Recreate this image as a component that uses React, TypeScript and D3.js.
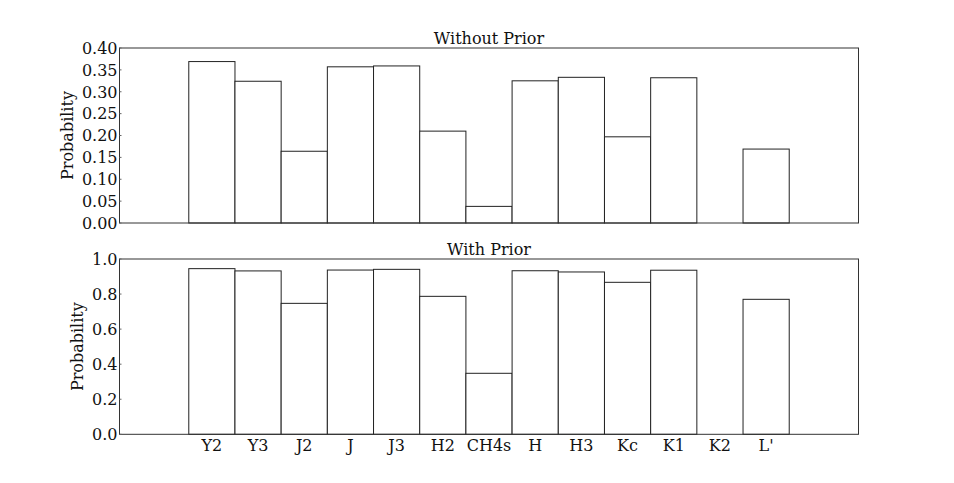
import * as d3 from 'd3';

// categories shared by both panels
const categories = ['Y2', 'Y3', 'J2', 'J', 'J3', 'H2', 'CH4s', 'H', 'H3', 'Kc', 'K1', 'K2', "L'"];

// probabilities without prior
const withoutPrior = [0.369, 0.324, 0.164, 0.357, 0.359, 0.21, 0.038, 0.325, 0.333, 0.197, 0.332, 0, 0.169];

// probabilities with prior
const withPrior = [0.945, 0.932, 0.747, 0.937, 0.941, 0.787, 0.348, 0.933, 0.926, 0.867, 0.936, 0, 0.77];

const topTicks = [0, 0.05, 0.1, 0.15, 0.2, 0.25, 0.3, 0.35, 0.4];
const bottomTicks = [0, 0.2, 0.4, 0.6, 0.8, 1.0];

const font = '"DejaVu Serif", serif';

function Panel({ values, title, yMax, ticks, fmt, top, height, labelX, showX }) {
  const left = 119.5;
  const right = 858.5;
  // bars sit at index i with width 1, one and a half bars of padding each side
  const x = d3.scaleLinear().domain([-1.5, categories.length + 1.5]).range([left, right]);
  const y = d3.scaleLinear().domain([0, yMax]).range([top + height, top]);

  return (
    <g>
      {values.map((v, i) =>
        v > 0 ? (
          <rect
            key={categories[i]}
            x={x(i)}
            y={y(v)}
            width={x(i + 1) - x(i)}
            height={y(0) - y(v)}
            fill="white"
            stroke="#222"
            strokeWidth={1}
          />
        ) : null
      )}
      <rect x={left} y={top} width={right - left} height={height} fill="none" stroke="#333" strokeWidth={1} />
      {ticks.map((t) => (
        <g key={t}>
          <line x1={left} x2={left + 2} y1={y(t)} y2={y(t)} stroke="#666" />
          <text x={left - 2} y={y(t)} dy="0.36em" textAnchor="end" fontSize={16} fontFamily={font} fill="#111">
            {fmt(t)}
          </text>
        </g>
      ))}
      <text x={(left + right) / 2} y={top - 4} textAnchor="middle" fontSize={16} fontFamily={font} fill="#111">
        {title}
      </text>
      <text
        transform={`translate(${labelX}, ${top + height / 2}) rotate(-90)`}
        textAnchor="middle"
        fontSize={16}
        fontFamily={font}
        fill="#111"
      >
        Probability
      </text>
      {showX &&
        categories.map((c, i) => (
          <text key={c} x={x(i + 0.5)} y={top + height + 17} textAnchor="middle" fontSize={16} fontFamily={font} fill="#111">
            {c}
          </text>
        ))}
    </g>
  );
}

export default function App() {
  return (
    <svg width={954} height={483} style={{ position: 'absolute', left: 0, top: 0, background: 'white' }}>
      <Panel
        values={withoutPrior}
        title="Without Prior"
        yMax={0.4}
        ticks={topTicks}
        fmt={d3.format('.2f')}
        top={48}
        height={175}
        labelX={73}
        showX={false}
      />
      <Panel
        values={withPrior}
        title="With Prior"
        yMax={1.0}
        ticks={bottomTicks}
        fmt={d3.format('.1f')}
        top={259}
        height={175.3}
        labelX={83}
        showX={true}
      />
    </svg>
  );
}
